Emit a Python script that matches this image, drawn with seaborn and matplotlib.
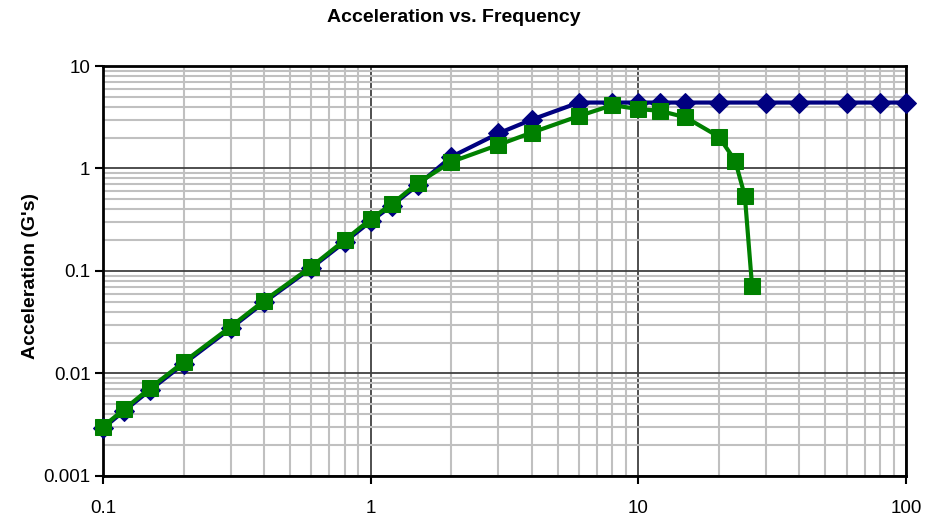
import matplotlib
matplotlib.use("Agg")
import matplotlib.pyplot as plt
import seaborn as sns
import pandas as pd
from matplotlib.ticker import LogLocator, FixedLocator, FixedFormatter, NullFormatter

sns.set_style("white")
plt.rcParams['font.family'] = ['Liberation Sans', 'DejaVu Sans']

blue_freq = [0.1, 0.12, 0.15, 0.2, 0.3, 0.4, 0.6, 0.8, 1, 1.2, 1.5, 2, 3, 4, 6, 8, 10, 12, 15, 20, 30, 40, 60, 80, 100]
blue_acc = [0.00292, 0.00432, 0.0069, 0.0124, 0.0276, 0.0495, 0.107, 0.192, 0.305, 0.435, 0.69, 1.3, 2.2, 3.0, 4.4, 4.4, 4.4, 4.4, 4.4, 4.4, 4.4, 4.4, 4.4, 4.4, 4.4]

green_freq = [0.1, 0.12, 0.15, 0.2, 0.3, 0.4, 0.6, 0.8, 1, 1.2, 1.5, 2, 3, 4, 6, 8, 10, 12, 15, 20, 23, 25, 26.6]
green_acc = [0.00303, 0.00448, 0.0072, 0.0129, 0.0286, 0.0513, 0.110, 0.20, 0.32, 0.45, 0.72, 1.16, 1.70, 2.24, 3.25, 4.15, 3.8, 3.66, 3.16, 2.04, 1.19, 0.54, 0.0714]

x_ticks = [0.1, 1, 10, 100]
x_labels = ["0.1", "1", "10", "100"]
y_ticks = [0.001, 0.01, 0.1, 1, 10]
y_labels = ["0.001", "0.01", "0.1", "1", "10"]

blue_df = pd.DataFrame({"freq": blue_freq, "acc": blue_acc})
green_df = pd.DataFrame({"freq": green_freq, "acc": green_acc})

fig = plt.figure(figsize=(9.26, 5.23), dpi=100)
ax = fig.add_axes([0.1112, 0.0899, 0.8672, 0.7839])

ax.set_xscale("log")
ax.set_yscale("log")
ax.set_xlim(0.1, 100)
ax.set_ylim(0.001, 10)

ax.xaxis.set_minor_locator(LogLocator(base=10, subs=range(2, 10)))
ax.yaxis.set_minor_locator(LogLocator(base=10, subs=range(2, 10)))
ax.xaxis.set_minor_formatter(NullFormatter())
ax.yaxis.set_minor_formatter(NullFormatter())
ax.grid(True, which="minor", color="#c0c0c0", linewidth=1.5)
ax.grid(True, which="major", color="#404040", linewidth=1.3)
ax.set_axisbelow(True)

sns.lineplot(data=blue_df, x="freq", y="acc", ax=ax, color="#000080", linewidth=3,
             marker="D", markersize=10.5, markeredgecolor="#000080", markerfacecolor="#000080",
             sort=False, zorder=3, clip_on=False)
sns.lineplot(data=green_df, x="freq", y="acc", ax=ax, color="#008000", linewidth=3,
             marker="s", markersize=12, markeredgecolor="#008000", markerfacecolor="#008000",
             sort=False, zorder=4, clip_on=False)

ax.xaxis.set_major_locator(FixedLocator(x_ticks))
ax.xaxis.set_major_formatter(FixedFormatter(x_labels))
ax.yaxis.set_major_locator(FixedLocator(y_ticks))
ax.yaxis.set_major_formatter(FixedFormatter(y_labels))

ax.tick_params(axis="both", which="major", direction="out", length=6, width=1.5,
               labelsize=13.5, color="black", labelcolor="black", bottom=True, left=True)
ax.tick_params(axis="y", which="major", pad=3)
ax.tick_params(axis="x", which="major", pad=11)
ax.tick_params(axis="both", which="minor", length=0)

for s in ax.spines.values():
    s.set_color("black")
    s.set_linewidth(2)

ax.set_xlabel("")
ax.set_ylabel("Acceleration (G's)", fontsize=14, fontweight="bold", labelpad=3, color="black")
ax.yaxis.label.set_y(0.488)
fig.text(0.4906, 0.966, "Acceleration vs. Frequency", ha="center", va="center",
         fontsize=14, fontweight="bold", color="black")

fig.savefig("out.png", dpi=100)
